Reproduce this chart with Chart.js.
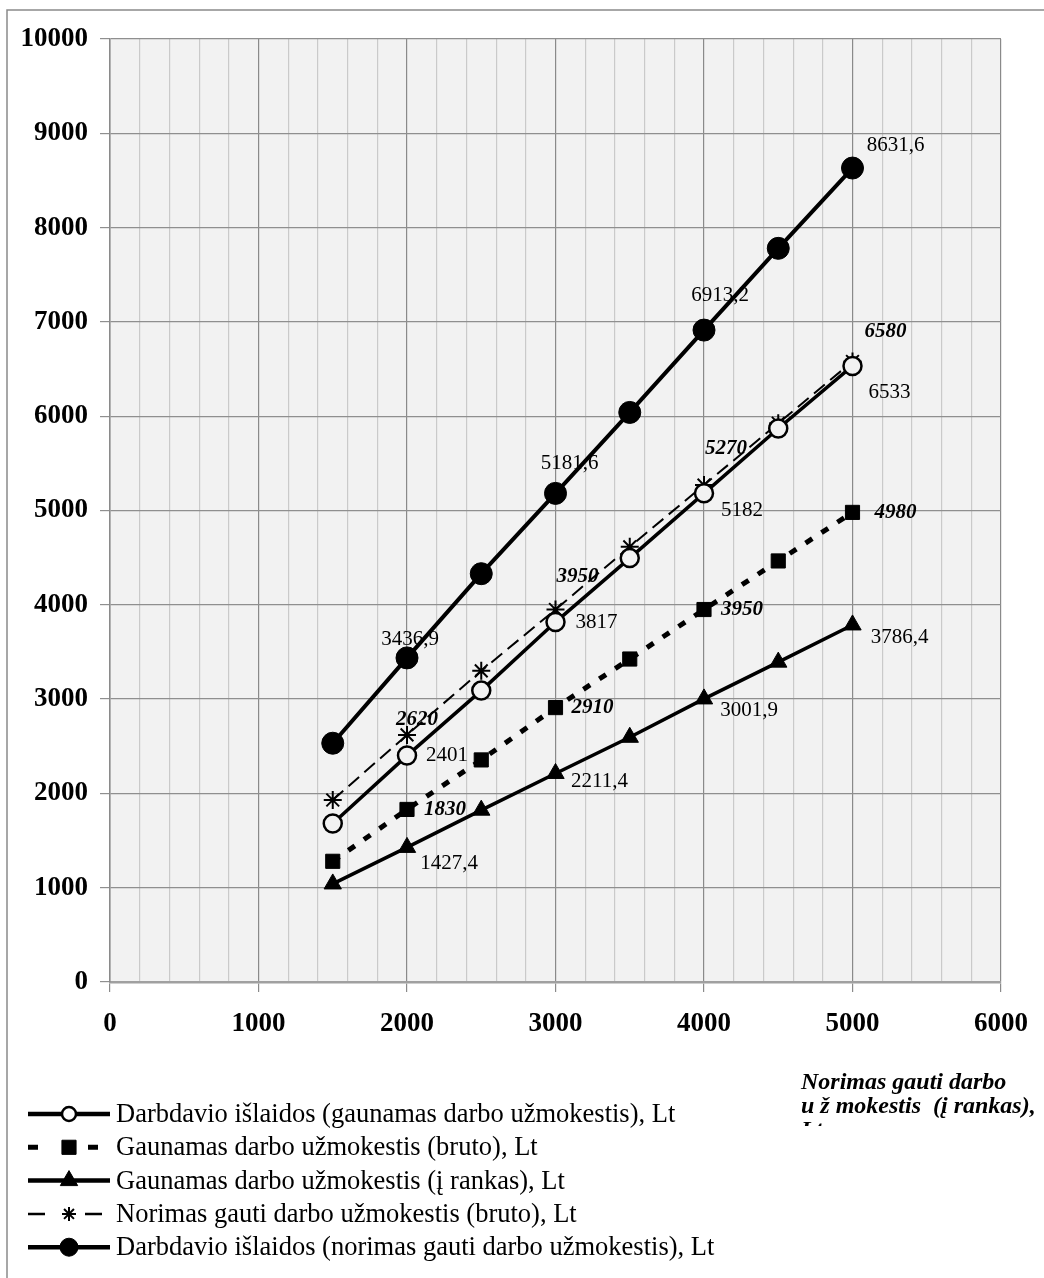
<!DOCTYPE html>
<html>
<head>
<meta charset="utf-8">
<script src="https://cdn.jsdelivr.net/npm/chart.js@4.4.0/dist/chart.umd.min.js"></script>
<style>
  html, body { margin: 0; padding: 0; background: #fff; }
  #wrap { position: relative; width: 1044px; height: 1278px; }
</style>
</head>
<body>
<div id="wrap"><canvas id="myChart"></canvas></div>
<script>
// x: desired net salary (į rankas), Lt
const xValues = [1500, 2000, 2500, 3000, 3500, 4000, 4500, 5000];

// series values
const employerCostReceived = [1680, 2401, 3090, 3817, 4495, 5182, 5870, 6533];
const grossReceived = [1280, 1830, 2355, 2910, 3425, 3950, 4465, 4980];
const netReceived = [1040, 1427.4, 1822, 2211.4, 2595, 3001.9, 3392, 3786.4];
const grossWanted = [1930, 2620, 3300, 3950, 4615, 5270, 5925, 6580];
const employerCostWanted = [2532, 3436.9, 4330, 5181.6, 6040, 6913.2, 7780, 8631.6];

const seriesNames = [
  "Darbdavio išlaidos (gaunamas darbo užmokestis), Lt",
  "Gaunamas darbo užmokestis (bruto), Lt",
  "Gaunamas darbo užmokestis (į rankas), Lt",
  "Norimas gauti darbo užmokestis (bruto), Lt",
  "Darbdavio išlaidos (norimas gauti darbo užmokestis), Lt"
];

const xTickLabels = [0, 1000, 2000, 3000, 4000, 5000, 6000];
const yTickLabels = [0, 1000, 2000, 3000, 4000, 5000, 6000, 7000, 8000, 9000, 10000];
const xTitleLines = ["Norimas gauti darbo", "u ž mokestis  (į rankas),", "Lt"];

const SERIF = "'Liberation Serif', 'Times New Roman', serif";

// which points get a value label, and where it sits relative to the point
const labelSpots = [
  { ds: 0, i: 1, dx: 40, dy: 0 }, { ds: 0, i: 3, dx: 41, dy: 0 },
  { ds: 0, i: 5, dx: 38, dy: 17 }, { ds: 0, i: 7, dx: 37, dy: 27 },
  { ds: 1, i: 1, dx: 38, dy: 0 }, { ds: 1, i: 3, dx: 37, dy: 0 },
  { ds: 1, i: 5, dx: 38, dy: 0 }, { ds: 1, i: 7, dx: 43, dy: 0 },
  { ds: 2, i: 1, dx: 42, dy: 16 }, { ds: 2, i: 3, dx: 44, dy: 8 },
  { ds: 2, i: 5, dx: 45, dy: 12 }, { ds: 2, i: 7, dx: 47, dy: 13 },
  { ds: 3, i: 1, dx: 10, dy: -15 }, { ds: 3, i: 3, dx: 22, dy: -33 },
  { ds: 3, i: 5, dx: 22, dy: -36 }, { ds: 3, i: 7, dx: 33, dy: -30 },
  { ds: 4, i: 1, dx: 3, dy: -18 }, { ds: 4, i: 3, dx: 14, dy: -30 },
  { ds: 4, i: 5, dx: 16, dy: -35 }, { ds: 4, i: 7, dx: 43, dy: -23 }
];

const toPoints = (arr) => xValues.map((x, i) => ({ x: x, y: arr[i] }));

const plotBackground = {
  id: "plotBackground",
  beforeDraw(chart) {
    const { ctx, chartArea: a } = chart;
    ctx.save();
    ctx.fillStyle = "#ffffff";
    ctx.fillRect(0, 0, chart.width, chart.height);
    ctx.fillStyle = "#f2f2f2";
    ctx.fillRect(a.left, a.top, a.right - a.left, a.bottom - a.top);
    // frame of the picture (only top and left edges are visible)
    ctx.strokeStyle = "#8a8a8a";
    ctx.lineWidth = 1.5;
    ctx.beginPath();
    ctx.moveTo(7, chart.height);
    ctx.lineTo(7, 10);
    ctx.lineTo(chart.width, 10);
    ctx.stroke();
    ctx.restore();
  }
};

const valueLabels = {
  id: "valueLabels",
  afterDatasetsDraw(chart) {
    const ctx = chart.ctx;
    ctx.save();
    ctx.fillStyle = "#000";
    ctx.textAlign = "center";
    ctx.textBaseline = "middle";
    labelSpots.forEach((s) => {
      const ds = chart.data.datasets[s.ds];
      const pt = chart.getDatasetMeta(s.ds).data[s.i];
      ctx.font = (ds.labelBold ? "italic bold " : "") + "21px " + SERIF;
      const txt = String(ds.data[s.i].y).replace(".", ",");
      ctx.fillText(txt, pt.x + s.dx, pt.y + s.dy);
    });
    ctx.restore();
  }
};

const sideLegend = {
  id: "sideLegend",
  afterDraw(chart) {
    const ctx = chart.ctx;
    ctx.save();
    chart.data.datasets.forEach((ds, k) => {
      const y = 1114 + k * 33.3;
      ctx.strokeStyle = "#000";
      ctx.lineWidth = ds.legendLineWidth;
      ctx.setLineDash(ds.legendDash || []);
      ctx.beginPath();
      ctx.moveTo(28, y);
      ctx.lineTo(110, y);
      ctx.stroke();
      ctx.setLineDash([]);
      ctx.fillStyle = ds.pointBackgroundColor === "#f2f2f2" ? "#ffffff" : ds.pointBackgroundColor;
      ctx.lineWidth = ds.pointBorderWidth;
      Chart.helpers.drawPoint(ctx, {
        pointStyle: ds.pointStyle,
        radius: ds.legendRadius,
        borderWidth: ds.pointBorderWidth,
        rotation: 0
      }, 69, y);
      ctx.fillStyle = "#000";
      ctx.font = "26.5px " + SERIF;
      ctx.textAlign = "left";
      ctx.textBaseline = "middle";
      ctx.fillText(ds.label, 116, y + 1);
    });

    // axis title, cut off at the bottom like in the source
    ctx.beginPath();
    ctx.rect(700, 1060, 344, 66);
    ctx.clip();
    ctx.font = "italic bold 24px " + SERIF;
    ctx.textAlign = "left";
    ctx.textBaseline = "middle";
    xTitleLines.forEach((line, k) => {
      ctx.fillText(line, 801, 1083 + k * 24);
    });
    ctx.restore();
  }
};

const ctx = document.getElementById("myChart").getContext("2d");
new Chart(ctx, {
  type: "line",
  data: {
    datasets: [
      {
        label: seriesNames[0],
        data: toPoints(employerCostReceived),
        borderColor: "#000",
        borderWidth: 3.5,
        pointStyle: "circle",
        pointRadius: 9,
        pointBorderWidth: 2.5,
        pointBackgroundColor: "#f2f2f2",
        pointBorderColor: "#000",
        legendRadius: 7,
        legendLineWidth: 4.5
      },
      {
        label: seriesNames[1],
        data: toPoints(grossReceived),
        borderColor: "#000",
        borderWidth: 5,
        borderDash: [8, 11],
        pointStyle: "rect",
        pointRadius: 10,
        pointBorderWidth: 1,
        pointBackgroundColor: "#000",
        pointBorderColor: "#000",
        labelBold: true,
        legendRadius: 10,
        legendLineWidth: 5,
        legendDash: [10, 50]
      },
      {
        label: seriesNames[2],
        data: toPoints(netReceived),
        borderColor: "#000",
        borderWidth: 3.5,
        pointStyle: "triangle",
        pointRadius: 10,
        pointBorderWidth: 1,
        pointBackgroundColor: "#000",
        pointBorderColor: "#000",
        legendRadius: 10,
        legendLineWidth: 4.5
      },
      {
        label: seriesNames[3],
        data: toPoints(grossWanted),
        borderColor: "#000",
        borderWidth: 2,
        borderDash: [14, 7],
        pointStyle: "star",
        pointRadius: 9,
        pointBorderWidth: 2,
        pointBackgroundColor: "#000",
        pointBorderColor: "#000",
        labelBold: true,
        legendRadius: 7,
        legendLineWidth: 2.5,
        legendDash: [17, 40]
      },
      {
        label: seriesNames[4],
        data: toPoints(employerCostWanted),
        borderColor: "#000",
        borderWidth: 4,
        pointStyle: "circle",
        pointRadius: 11,
        pointBorderWidth: 1,
        pointBackgroundColor: "#000",
        pointBorderColor: "#000",
        legendRadius: 9,
        legendLineWidth: 4.5
      }
    ]
  },
  options: {
    responsive: true,
    maintainAspectRatio: false,
    animation: false,
    layout: { padding: { left: 0, top: 39, right: 43, bottom: 236 } },
    plugins: {
      legend: { display: false },
      tooltip: { enabled: false }
    },
    elements: { line: { tension: 0 } },
    scales: {
      x: {
        type: "linear",
        min: xTickLabels[0],
        max: xTickLabels[xTickLabels.length - 1],
        afterFit(scale) { scale.height = 60; },
        ticks: {
          stepSize: 200,
          autoSkip: false,
          maxRotation: 0,
          padding: 16,
          color: "#000",
          font: { family: SERIF, size: 27, weight: "bold" },
          callback: (v) => (xTickLabels.includes(v) ? String(v) : "")
        },
        grid: {
          color: (c) => (c.tick && c.tick.value % 1000 === 0 ? "#8a8a8a" : "#cacaca"),
          lineWidth: 1.2,
          tickLength: 10,
          tickColor: (c) => (c.tick && c.tick.value % 1000 === 0 ? "#8a8a8a" : "rgba(0,0,0,0)")
        },
        border: { color: "#a0a0a0", width: 2.5 }
      },
      y: {
        min: yTickLabels[0],
        max: yTickLabels[yTickLabels.length - 1],
        afterFit(scale) { scale.width = 110; },
        afterBuildTicks(scale) { scale.ticks = yTickLabels.map((v) => ({ value: v })); },
        ticks: {
          padding: 12,
          color: "#000",
          font: { family: SERIF, size: 27, weight: "bold" },
          callback: (v) => String(v)
        },
        grid: { color: "#8f8f8f", lineWidth: 1.2, tickLength: 10, tickColor: "#8f8f8f" },
        border: { color: "#8a8a8a", width: 1.5 }
      }
    }
  },
  plugins: [plotBackground, valueLabels, sideLegend]
});
</script>
</body>
</html>
